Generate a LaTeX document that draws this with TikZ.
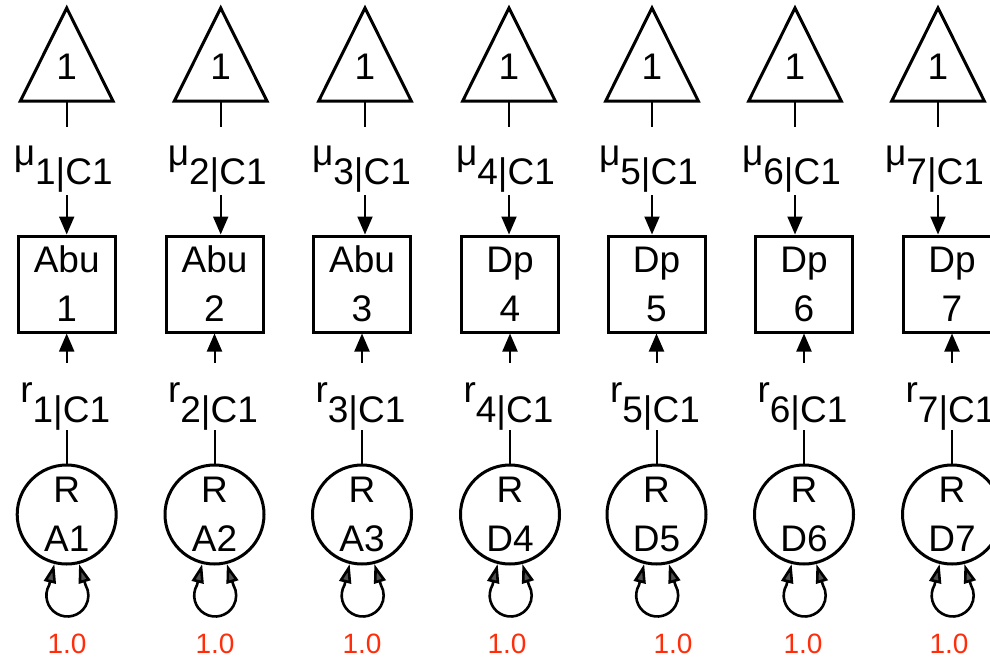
\documentclass[tikz,border=0pt]{standalone}
\usepackage{fontspec}
\setmainfont{Liberation Sans}
\usetikzlibrary{arrows.meta}
\definecolor{labred}{RGB}{255,45,10}
\definecolor{tipgray}{RGB}{80,80,80}
\begin{document}
\begin{tikzpicture}[x=1pt,y=1pt,
  every node/.style={font=\fontsize{37}{49}\selectfont, inner sep=0pt},
  shapeline/.style={draw=black, line width=3pt, line join=miter},
  obsbox/.style={shapeline, rectangle, minimum width=97pt, minimum height=96pt, align=center},
  latcirc/.style={shapeline, circle, minimum size=99pt, align=center},
  mulabel/.style={anchor=base, text height=52pt, text depth=6pt, inner ysep=5pt},
  rlabel/.style={anchor=base, text height=55pt, text depth=4pt, inner ysep=4pt},
  conn/.style={draw=black, line width=2pt},
  arr/.style={conn, -{Triangle[length=18pt,width=15pt]}},
  looptip/.tip={Triangle[length=19pt,width=12pt,fill=tipgray]},
  selfloop/.style={draw=black, line width=2.6pt, looptip-looptip},
  fixlabel/.style={font=\fontsize{28}{32}\selectfont, text=labred, anchor=base}
]
\useasboundingbox (0,0) rectangle (990,-659);
\clip (0,0) rectangle (990,-659);
\foreach \i/\tx/\bx/\ob/\la/\vx in {1/66.7/66.7/Abu/A/67, 2/220.7/214.5/Abu/A/215, 3/365/362/Abu/A/362, 4/509/510/Dp/D/507, 5/652/656.5/Dp/D/673, 6/795/804/Dp/D/803, 7/938/952/Dp/D/949}{
  % intercept triangle
  \draw[shapeline] (\tx-46.3,-101) -- (\tx,-8) -- (\tx+46.3,-101) -- cycle;
  \coordinate (tb\i) at (\tx,-101);
  \node[anchor=base] (one\i) at (\tx,-79) {1};
  % mean label
  \node[mulabel] (mu\i) at (\tx-3.5,-184) {\raisebox{19pt}{μ}\i|C1};
  \draw[conn] (tb\i) -- (mu\i.north -| tb\i);
  % observed box
  \node[obsbox] (box\i) at (\bx,-284) {\ob\\\i};
  \draw[arr] (mu\i.south -| tb\i) -- (box\i.north -| tb\i);
  % loading label
  \node[rlabel] (r\i) at (\bx-1.5,-422) {\raisebox{20pt}{r}\i|C1};
  \draw[arr] (r\i.north -| box\i.south) -- (box\i.south);
  % latent circle
  \node[latcirc] (lat\i) at (\bx,-514.5) {R\\\la\i};
  \draw[conn] (r\i.south -| lat\i.north) -- (lat\i.north);
  % self loop
  \begin{scope}[shift={(lat\i.south)}]
    \draw[selfloop] (lat\i.256) -- (-17.5,-19.5) arc[start angle=150, end angle=390, radius=21]
      -- (lat\i.284);
  \end{scope}
  \node[fixlabel] (val\i) at (\vx,-653) {1.0};
}
\end{tikzpicture}
\end{document}
